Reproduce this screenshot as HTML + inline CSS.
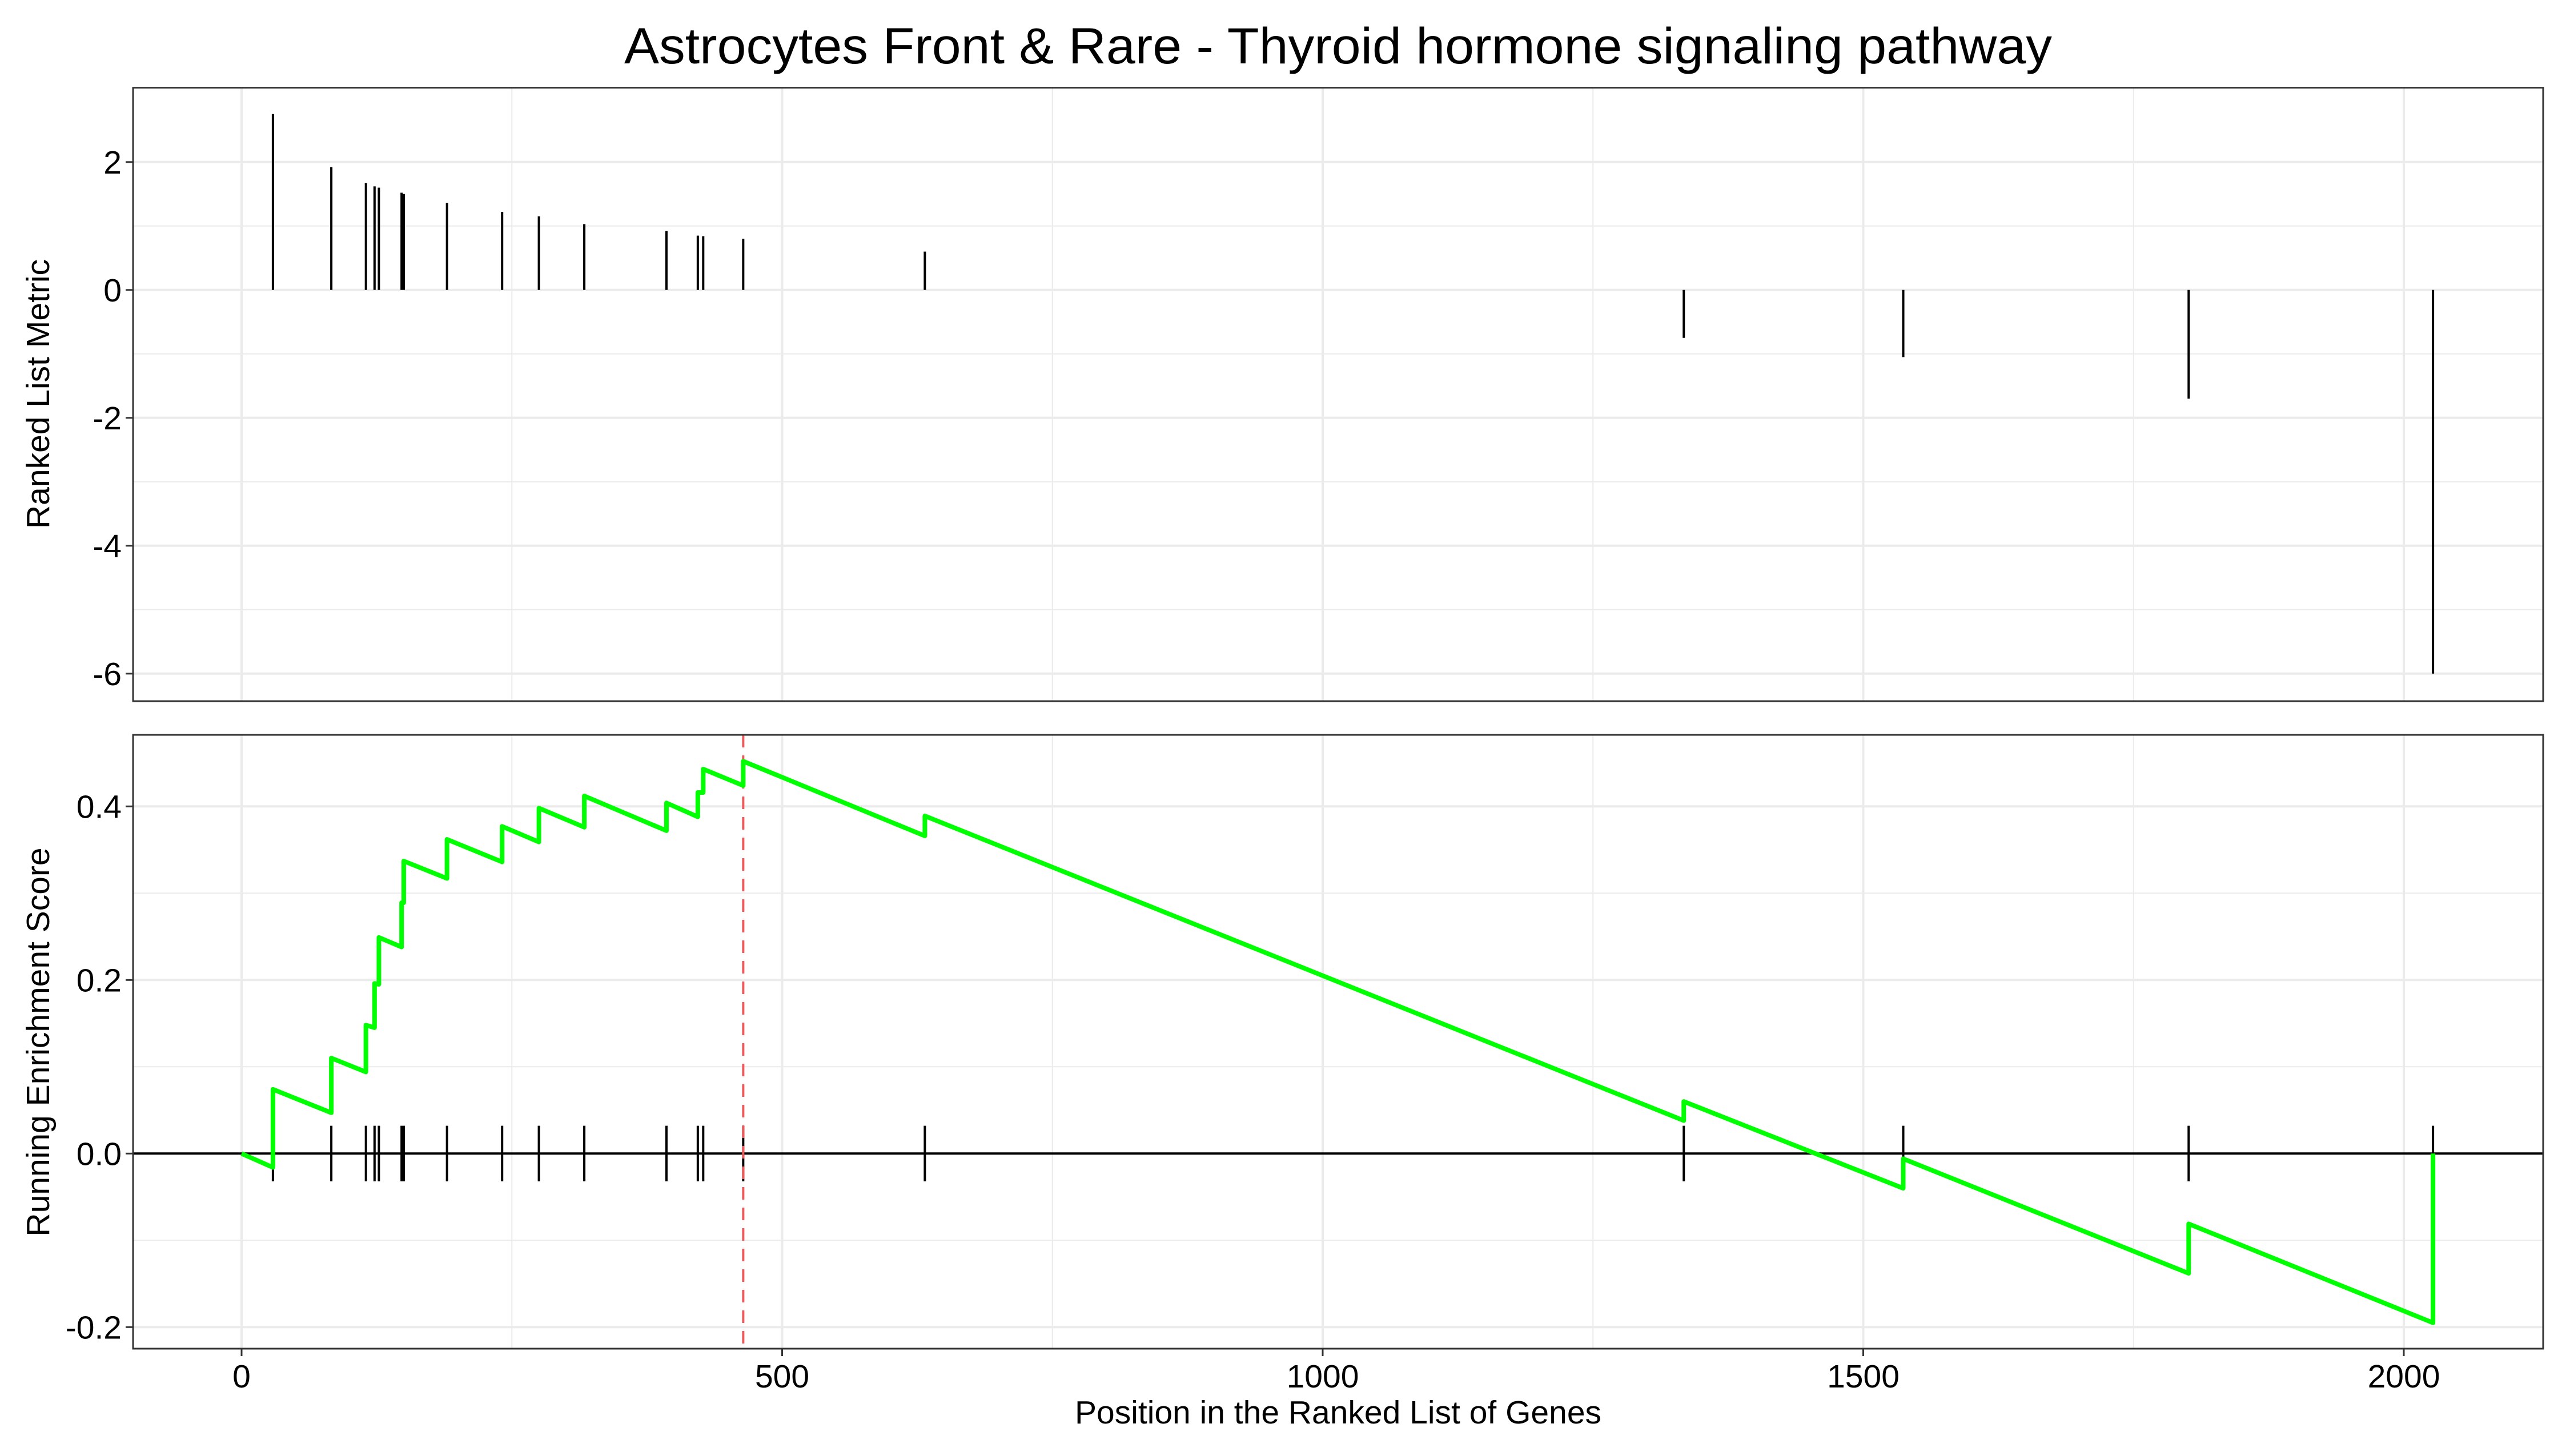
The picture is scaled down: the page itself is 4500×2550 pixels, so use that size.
<!DOCTYPE html>
<html><head><meta charset="utf-8"><style>
html,body{margin:0;padding:0;background:#fff;}
svg{display:block;font-family:"Liberation Sans",Arial,sans-serif;}
</style></head><body>
<svg id="chart" width="4500" height="2550" viewBox="0 0 4500 2550" xmlns="http://www.w3.org/2000/svg">
<rect x="0" y="0" width="4500" height="2550" fill="#fff"/>
<text x="2343" y="111" font-size="89" text-anchor="middle" textLength="2500" lengthAdjust="spacingAndGlyphs">Astrocytes Front &amp; Rare - Thyroid hormone signaling pathway</text>
<g id="topPanel"></g>
<g id="botPanel"></g>
<text x="2343" y="2493" font-size="57" text-anchor="middle">Position in the Ranked List of Genes</text>
<text transform="translate(86,690) rotate(-90)" font-size="57" text-anchor="middle">Ranked List Metric</text>
<text transform="translate(86,1825) rotate(-90)" font-size="57" text-anchor="middle">Running Enrichment Score</text>
</svg>
<script>
const hitPositions = [29,83,115,123,127,148,150,190,241,275,317,393,422,427,464,632,1334,1537,1801,2027];
const metricValues = [2.75,1.92,1.67,1.62,1.60,1.52,1.50,1.36,1.22,1.15,1.03,0.92,0.85,0.84,0.80,0.60,-0.75,-1.05,-1.70,-6.00];
const esBefore = [-0.016,0.047,0.094,0.145,0.195,0.238,0.289,0.317,0.336,0.359,0.376,0.372,0.388,0.416,0.424,0.366,0.038,-0.040,-0.138,-0.195];
const esAfter  = [0.074,0.110,0.148,0.196,0.249,0.289,0.337,0.362,0.377,0.398,0.412,0.404,0.416,0.443,0.452,0.389,0.060,-0.006,-0.081,0.000];
const peakPosition = 464;
const xTicks = [0,500,1000,1500,2000];
const topYTicks = [-6,-4,-2,0,2];
const topYMinor = [-5,-3,-1,1];
const botYTicks = [-0.2,0.0,0.2,0.4];
const botYMinor = [-0.1,0.1,0.3];
const xMinor = [250,750,1250,1750];

const NS='http://www.w3.org/2000/svg';
const L=233,R=4453;
const xs=v=>423+v*1.893;
const T={top:153.6,bot:1228,y:v=>507.8-v*112};
const B={top:1287,bot:2362,y:v=>2020.3-v*1520};
function mk(p,tag,a){const e=document.createElementNS(NS,tag);for(const k in a)e.setAttribute(k,a[k]);p.appendChild(e);return e;}

function panel(g,P,yt,ym,fmt,showX){
  ym.forEach(v=>{const e=mk(g,'line',{x1:L,x2:R,y1:P.y(v),y2:P.y(v),stroke:'#ebebeb','stroke-width':2});
    
    });
  xMinor.forEach(v=>{const e=mk(g,'line',{x1:xs(v),x2:xs(v),y1:P.top,y2:P.bot,stroke:'#ebebeb','stroke-width':2});
    
    });
  yt.forEach(v=>{const e=mk(g,'line',{x1:L,x2:R,y1:P.y(v),y2:P.y(v),stroke:'#ebebeb','stroke-width':4});
    
    
    const t=mk(g,'line',{x1:L-13,x2:L,y1:P.y(v),y2:P.y(v),stroke:'#333','stroke-width':3});
    
    
    const tx=mk(g,'text',{x:L-20,y:P.y(v)+20,'font-size':57,'text-anchor':'end',fill:'#000'});
    tx.textContent=fmt(v);
    
    });
  xTicks.forEach(v=>{const e=mk(g,'line',{x1:xs(v),x2:xs(v),y1:P.top,y2:P.bot,stroke:'#ebebeb','stroke-width':4});
    
    
    if(showX){const t=mk(g,'line',{x1:xs(v),x2:xs(v),y1:P.bot,y2:P.bot+13,stroke:'#333','stroke-width':3});
      
      
      const tx=mk(g,'text',{x:xs(v),y:2430,'font-size':57,'text-anchor':'middle'});
      tx.textContent=String(v);
      
      }});
}
const gTop=document.getElementById('topPanel'),gBot=document.getElementById('botPanel');
panel(gTop,T,topYTicks,topYMinor,v=>String(v),false);
panel(gBot,B,botYTicks,botYMinor,v=>v.toFixed(1),true);

hitPositions.forEach((p,i)=>{
  const e=mk(gTop,'line',{x1:xs(p),x2:xs(p),y1:T.y(0),y2:T.y(metricValues[i]),stroke:'#000','stroke-width':4});
  
  
});
const z=mk(gBot,'line',{x1:L,x2:R,y1:B.y(0),y2:B.y(0),stroke:'#000','stroke-width':4});


hitPositions.forEach(p=>{
  const e=mk(gBot,'line',{x1:xs(p),x2:xs(p),y1:B.y(0.032),y2:B.y(-0.032),stroke:'#000','stroke-width':4});
  
  
});
const pk=mk(gBot,'line',{x1:xs(peakPosition),x2:xs(peakPosition),y1:B.top,y2:B.bot,stroke:'#f0585a','stroke-width':4,'stroke-dasharray':'22,14'});


let d='M'+xs(0)+','+B.y(0);
hitPositions.forEach((p,i)=>{d+=' L'+xs(p)+','+B.y(esBefore[i])+' L'+xs(p)+','+B.y(esAfter[i]);});
const es=mk(gBot,'path',{d:d,fill:'none',stroke:'#00ff00','stroke-width':8,'stroke-linejoin':'round'});


[[gTop,T],[gBot,B]].forEach(([g,P])=>{
  const r=mk(g,'rect',{x:L,y:P.top,width:R-L,height:P.bot-P.top,fill:'none',stroke:'#333','stroke-width':3});
  
  
});
</script>
</body></html>
